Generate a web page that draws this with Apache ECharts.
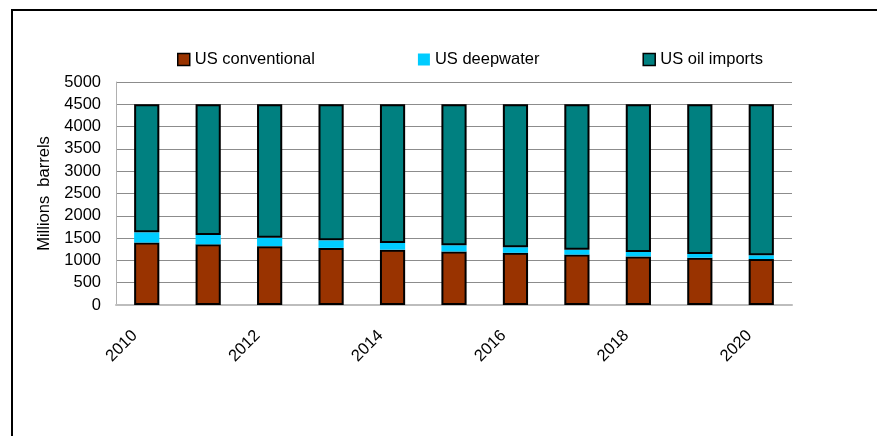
<!DOCTYPE html>
<html>
<head>
<meta charset="utf-8">
<script src="https://cdn.jsdelivr.net/npm/echarts@6/dist/echarts.min.js"></script>
<style>html,body{margin:0;padding:0;background:#fff;}#c{width:877px;height:436px;}</style>
</head>
<body>
<div id="c"></div>
<script>
var years = ['2010','2011','2012','2013','2014','2015','2016','2017','2018','2019','2020'];
var usConventional = [1400, 1360, 1320, 1280, 1240, 1200, 1170, 1130, 1090, 1060, 1030];
var usDeepwater = [230, 210, 190, 170, 150, 140, 125, 110, 100, 85, 85];
var usImports = [2870, 2930, 2990, 3050, 3110, 3160, 3205, 3260, 3310, 3355, 3385];

var FONT = 'Liberation Sans';
var chart = echarts.init(document.getElementById('c'));
chart.setOption({
  animation: false,
  textStyle: { fontFamily: FONT },
  graphic: [{
    type: 'rect', silent: true,
    shape: { x: 12, y: 10, width: 1000, height: 1000 },
    style: { fill: 'none', stroke: '#000', lineWidth: 2 }
  }],
  legend: {
    left: 172, top: 46,
    icon: 'rect',
    itemWidth: 12, itemHeight: 12, itemGap: 103,
    textStyle: { fontFamily: FONT, fontSize: 16.5, color: '#000' },
    data: [
      { name: 'US conventional', itemStyle: { borderColor: '#000', borderWidth: 1.5 } },
      { name: 'US deepwater', itemStyle: { borderWidth: 0 } },
      { name: 'US oil imports', itemStyle: { borderColor: '#000', borderWidth: 1.5 } }
    ]
  },
  grid: { left: 116, right: 85, top: 82, bottom: 131, containLabel: false },
  xAxis: {
    type: 'category',
    data: years,
    axisLine: { lineStyle: { color: '#bdbdbd', width: 2 } },
    axisTick: { show: false },
    axisLabel: { rotate: 45, interval: 1, margin: 16, padding: [0, 17, 0, 0], fontFamily: FONT, fontSize: 16.5, color: '#000' }
  },
  yAxis: {
    type: 'value', min: 0, max: 5000, interval: 500,
    name: 'Millions  barrels', nameLocation: 'middle', nameGap: 50, nameRotate: 90,
    nameTextStyle: { fontFamily: FONT, fontSize: 16.5, color: '#000' },
    axisLine: { show: true, lineStyle: { color: '#b0b0b0', width: 1 } },
    axisTick: { show: false },
    splitLine: { lineStyle: { color: '#8c8c8c', width: 1 } },
    axisLabel: { margin: 15, fontFamily: FONT, fontSize: 16.5, color: '#000',
      formatter: function (v) { return String(v); } }
  },
  series: [
    { name: 'US conventional', type: 'bar', stack: 't', data: usConventional, barWidth: '41%',
      itemStyle: { color: '#993300', borderColor: '#000', borderWidth: 2 } },
    { name: 'US deepwater', type: 'bar', stack: 't', data: usDeepwater,
      itemStyle: { color: '#00ccff', borderWidth: 0 } },
    { name: 'US oil imports', type: 'bar', stack: 't', data: usImports,
      itemStyle: { color: '#008080', borderColor: '#000', borderWidth: 2 } }
  ]
});
</script>
</body>
</html>
